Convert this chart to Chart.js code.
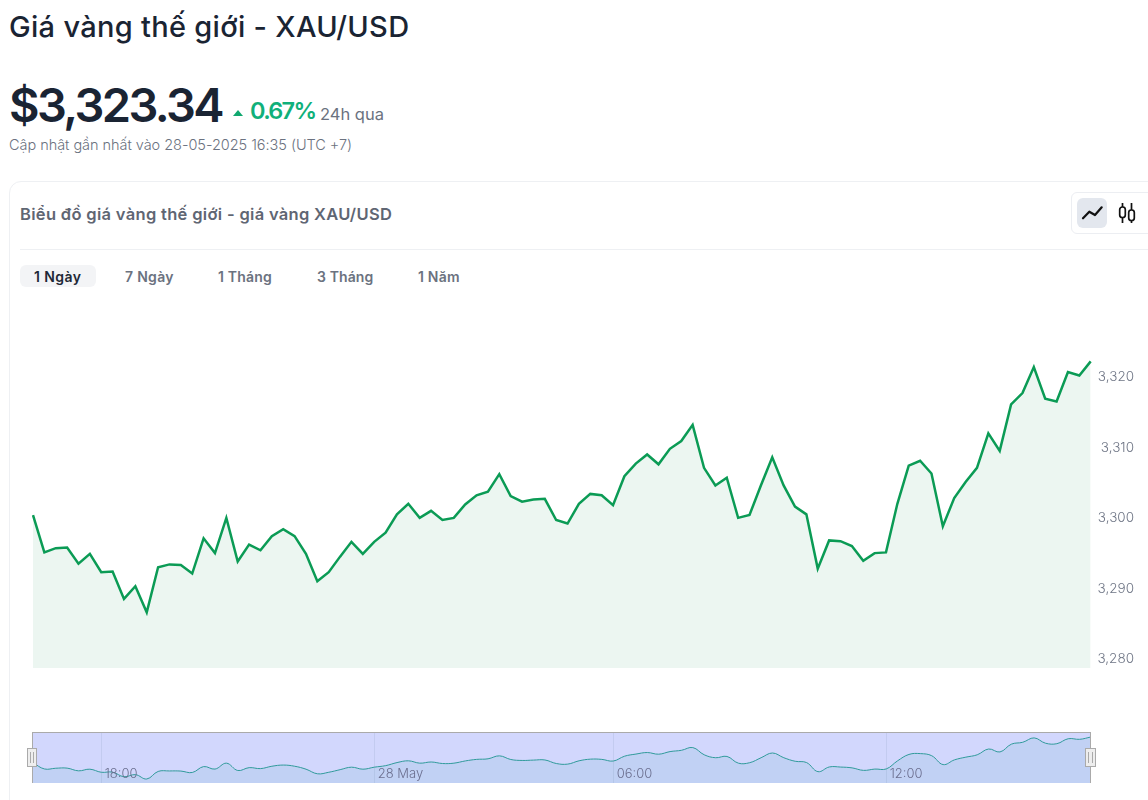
<!DOCTYPE html>
<html lang="vi">
<head>
<meta charset="utf-8">
<title>Giá vàng thế giới - XAU/USD</title>
<script src="https://cdn.jsdelivr.net/npm/chart.js@4"></script>
<style>
html,body{margin:0;padding:0;background:#fff;overflow:hidden;width:1148px;height:800px;font-family:"Inter",sans-serif;}
.t{position:absolute;white-space:nowrap;line-height:1;}
.box{position:absolute;box-sizing:border-box;}
canvas{position:absolute;display:block;}
</style>
</head>
<body>
<div class="t" style="left:9px;top:12px;font-size:29px;font-weight:500;color:#1a2433;letter-spacing:0.3px;">Giá vàng thế giới - XAU/USD</div>
<div class="t" style="left:9px;top:81px;font-size:47px;font-weight:600;color:#1a2433;letter-spacing:-2.6px;">$3,323.34</div>
<svg class="box" style="left:232px;top:109px" width="12" height="8"><path d="M1 7 L6 1 L11 7 Z" fill="#10a86f"/></svg>
<div class="t" style="left:250px;top:99px;font-size:23.5px;font-weight:600;color:#10b07a;letter-spacing:-1.7px;">0.67%</div>
<div class="t" style="left:320px;top:106px;font-size:16.5px;font-weight:400;color:#6b7280;">24h qua</div>
<div class="t" style="left:9px;top:138px;font-size:14.5px;font-weight:300;color:#6b7280;letter-spacing:-0.04px;">Cập nhật gần nhất vào 28-05-2025 16:35 (UTC +7)</div>

<div class="box" style="left:9px;top:181px;width:1200px;height:700px;border:1px solid #eef0f3;border-radius:12px;"></div>
<div class="t" style="left:20px;top:206px;font-size:16.5px;font-weight:600;color:#5f6673;letter-spacing:0.32px;">Biểu đồ giá vàng thế giới - giá vàng XAU/USD</div>
<div class="box" style="left:20px;top:249px;width:1128px;height:1px;background:#eef0f3;"></div>

<div class="box" style="left:1071px;top:192px;width:90px;height:42px;border:1px solid #eceef2;border-radius:6px;"></div>
<div class="box" style="left:1077px;top:198px;width:30px;height:30px;background:#e3e7ee;border-radius:6px;"></div>
<svg class="box" style="left:1080px;top:201px" width="24" height="24" fill="none" stroke="#111" stroke-width="2.2" stroke-linejoin="round" stroke-linecap="round"><path d="M3 17.3 L9.3 10.7 L15 14 L21.7 6.3"/></svg>
<svg class="box" style="left:1116px;top:201px" width="24" height="24" fill="none" stroke="#111" stroke-width="1.7"><path d="M6.5 2 V22 M15.5 2 V22"/><rect x="3.7" y="6" width="5.6" height="10.5" rx="2.6" fill="#fff"/><rect x="12.7" y="9" width="5.6" height="10.5" rx="2.6" fill="#fff"/></svg>

<div class="box" style="left:20px;top:265px;width:76px;height:22px;background:#f3f4f6;border-radius:6px;"></div>
<div class="t" style="left:34px;top:270px;font-size:14px;font-weight:600;color:#1f2937;letter-spacing:0.4px;">1 Ngày</div>
<div class="t" style="left:125px;top:270px;font-size:14px;font-weight:600;color:#6b7280;letter-spacing:0.3px;">7 Ngày</div>
<div class="t" style="left:218px;top:270px;font-size:14px;font-weight:600;color:#6b7280;letter-spacing:0.2px;">1 Tháng</div>
<div class="t" style="left:317px;top:270px;font-size:14px;font-weight:600;color:#6b7280;letter-spacing:0.1px;">3 Tháng</div>
<div class="t" style="left:418px;top:270px;font-size:14px;font-weight:600;color:#6b7280;letter-spacing:0.2px;">1 Năm</div>

<canvas id="main" width="1134" height="400" style="left:0;top:290px;"></canvas>

<div class="box" style="left:33px;top:732px;width:1058px;height:51px;background:#d2d7fd;"></div>
<canvas id="mini" width="1058" height="51" style="left:33px;top:732px;"></canvas>
<div class="box" style="left:32px;top:732px;width:1059px;height:51px;border:1px solid #aaa;border-bottom:none;"></div>

<div class="box" style="left:27px;top:748px;width:10px;height:19px;background:#eee;border:1px solid #aaa;"></div>
<div class="box" style="left:30px;top:752px;width:4px;height:11px;border-left:1px solid #aaa;border-right:1px solid #aaa;"></div>
<div class="box" style="left:1085px;top:748px;width:11px;height:19px;background:#eee;border:1px solid #aaa;"></div>
<div class="box" style="left:1088px;top:752px;width:5px;height:11px;border-left:1px solid #aaa;border-right:1px solid #aaa;"></div>

<script>
const priceValues = [
  3300.3,3295.0,3295.6,3295.7,3293.4,3294.8,3292.2,3292.3,3288.4,3290.2,
  3286.5,3292.9,3293.3,3293.2,3292.0,3297.0,3294.9,3299.9,3293.7,3296.1,
  3295.3,3297.3,3298.3,3297.3,3294.8,3290.9,3292.2,3294.4,3296.5,3294.8,
  3296.5,3297.8,3300.4,3301.9,3299.9,3300.9,3299.6,3299.9,3301.8,3303.1,
  3303.6,3306.1,3303.0,3302.2,3302.5,3302.6,3299.6,3299.1,3301.9,3303.3,
  3303.1,3301.7,3305.8,3307.6,3308.9,3307.5,3309.7,3310.8,3313.1,3307.0,
  3304.5,3305.6,3299.9,3300.3,3304.5,3308.5,3304.5,3301.5,3300.4,3292.7,
  3296.7,3296.6,3295.9,3293.8,3294.9,3295.0,3301.9,3307.3,3308.0,3306.2,
  3298.7,3302.7,3305.0,3307.0,3311.9,3309.4,3316.0,3317.6,3321.3,3316.8,
  3316.4,3320.6,3320.1,3322.1
];
const priceTicks = [3280,3290,3300,3310,3320];
const miniTickIndex = [6,30,51,75];
const miniTickLabels = ['18:00','28 May','06:00','12:00'];
const categories = priceValues.map((_, i) => i);

const tickFont = {family:'Inter, sans-serif', size:13.5, weight:'300'};

new Chart(document.getElementById('main'), {
  type:'line',
  data:{labels:categories, datasets:[{
    data:priceValues, borderColor:'#0b9b55', borderWidth:2.5, pointRadius:0, tension:0,
    fill:'start', backgroundColor:'#ecf6f1', borderJoinStyle:'miter'
  }]},
  options:{
    responsive:false, animation:false, devicePixelRatio:1,
    layout:{padding:{left:33,top:8,bottom:22,right:0}},
    plugins:{legend:{display:false},tooltip:{enabled:false}},
    scales:{
      x:{display:false, offset:false},
      y:{
        position:'right', min:3278.6, max:3331.08,
        afterBuildTicks:s=>{s.ticks=priceTicks.map(v=>({value:v}));},
        afterFit:s=>{s.width=43.3;},
        grid:{display:false}, border:{display:false},
        ticks:{color:'#6e7585', font:tickFont, crossAlign:'far', padding:0, labelOffset:1,
          callback:v=>v.toLocaleString('en-US')}
      }
    }
  }
});

new Chart(document.getElementById('mini'), {
  type:'line',
  data:{datasets:[{
    data:priceValues.map((v,i)=>({x:i,y:v})), borderColor:'#2f9a9a', borderWidth:1, pointRadius:0,
    tension:0.4, fill:'start', backgroundColor:'rgba(50,155,163,0.1)'
  }]},
  options:{
    responsive:false, animation:false, devicePixelRatio:1, parsing:false,
    plugins:{legend:{display:false},tooltip:{enabled:false}},
    scales:{
      x:{
        type:'linear', min:0, max:93, position:'bottom',
        afterBuildTicks:s=>{s.ticks=miniTickIndex.map(v=>({value:v}));},
        afterFit:s=>{s.height=0;},
        grid:{color:'#c3cbf0', lineWidth:1, drawTicks:false}, border:{display:false},
        ticks:{z:1, mirror:true, color:'#6b6f8f', font:{family:'Inter, sans-serif', size:13, weight:'300'},
          align:'start', labelOffset:3.5, padding:1.3, autoSkip:false, maxRotation:0, minRotation:0,
          callback:v=>miniTickLabels[miniTickIndex.indexOf(v)]}
      },
      y:{display:false, min:3283.1, max:3326.3}
    }
  }
});
</script>
</body>
</html>
